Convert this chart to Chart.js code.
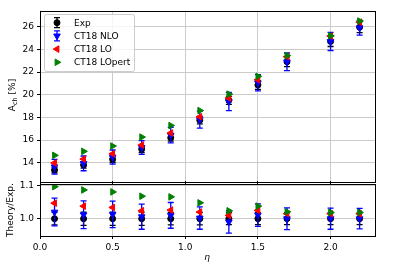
<!DOCTYPE html>
<html lang="en">
<head>
<meta charset="UTF-8">
<title>A_ch vs eta</title>
<script src="https://cdn.jsdelivr.net/npm/chart.js"></script>
<style>
  body { margin: 0; background: #fff; }
  .wrap { position: relative; width: 395px; height: 263px; }
  .wrap canvas { position: absolute; left: 0; top: 0; }
</style>
</head>
<body>
<div class="wrap">
  <canvas id="topChart" width="395" height="263"></canvas>
  <canvas id="ratioChart" width="395" height="263"></canvas>
</div>
<script>
// data
const eta = [0.1, 0.3, 0.5, 0.7, 0.9, 1.1, 1.3, 1.5, 1.7, 2.0, 2.2];

const expVal    = [13.35, 13.8, 14.3, 15.2, 16.2, 17.75, 19.5, 20.85, 22.9, 24.7, 25.95];
const expErr    = [0.25, 0.27, 0.28, 0.3, 0.3, 0.33, 0.36, 0.38, 0.42, 0.45, 0.48];
const nloVal    = [13.64, 13.94, 14.5, 15.34, 16.43, 17.8, 19.4, 21.05, 22.9, 24.7, 25.9];
const nloErr    = [0.65, 0.65, 0.62, 0.6, 0.68, 0.75, 0.8, 0.72, 0.78, 0.8, 0.65];
const loVal     = [13.98, 14.32, 14.79, 15.56, 16.62, 18.05, 19.7, 21.32, 23.35, 25.17, 26.4];
const lopertVal = [14.65, 15.0, 15.47, 16.26, 17.28, 18.6, 20.05, 21.62, 23.45, 25.2, 26.5];

const expRatio     = [1.0, 1.0, 1.0, 1.0, 1.0, 1.0, 1.0, 1.0, 1.0, 1.0, 1.0];
const expRatioErr  = [0.019, 0.02, 0.02, 0.02, 0.019, 0.019, 0.018, 0.018, 0.018, 0.018, 0.018];
const nloRatio     = [1.02, 1.012, 1.013, 1.006, 1.01, 1.002, 0.99, 1.011, 1.0, 1.0, 1.0];
const nloRatioErr  = [0.042, 0.042, 0.04, 0.038, 0.039, 0.034, 0.034, 0.034, 0.033, 0.032, 0.031];
const loRatio      = [1.047, 1.038, 1.034, 1.024, 1.026, 1.02, 1.01, 1.025, 1.015, 1.015, 1.015];
const lopertRatio  = [1.097, 1.087, 1.081, 1.068, 1.066, 1.048, 1.024, 1.038, 1.021, 1.019, 1.019];

const xTicks      = [0.0, 0.5, 1.0, 1.5, 2.0];
const topTicks    = [14, 16, 18, 20, 22, 24, 26];
const ratioTicks  = [1.0, 1.1];

const seriesNames  = ['Exp', 'CT18 NLO', 'CT18 LO', 'CT18 LOpert'];
const seriesColors = ['#000000', '#0000ff', '#ff0000', '#008000'];
const seriesStyle  = [
  { pointStyle: 'circle', rotation: 0, radius: 3 },
  { pointStyle: 'triangle', rotation: 180, radius: 3.8 },
  { pointStyle: 'triangle', rotation: -90, radius: 3.8 },
  { pointStyle: 'triangle', rotation: 90, radius: 3.8 }
];

const FONT = '"DejaVu Sans", sans-serif';
const gridColor = '#cbcbcb';

function pts(vals) {
  return vals.map((v, i) => ({ x: eta[i], y: v }));
}

function makeDatasets(valueLists) {
  return valueLists.map((vals, k) => ({
    label: seriesNames[k],
    data: pts(vals),
    backgroundColor: seriesColors[k],
    borderColor: seriesColors[k],
    borderWidth: 1,
    pointStyle: seriesStyle[k].pointStyle,
    rotation: seriesStyle[k].rotation,
    pointRadius: seriesStyle[k].radius,
    showLine: false,
    order: 4 - k   // Exp drawn first, LOpert last (on top)
  }));
}

// error bars, drawn just before their own dataset
function errorBarPlugin(errs) {
  return {
    id: 'errbars',
    beforeDatasetDraw(chart, args) {
      const err = errs[args.index];
      if (!err) return;
      const ds = chart.data.datasets[args.index];
      const xs = chart.scales.x, ys = chart.scales.y;
      const ctx = chart.ctx;
      ctx.save();
      ctx.strokeStyle = ds.borderColor;
      ctx.lineWidth = 1.3;
      ds.data.forEach((p, i) => {
        const x = xs.getPixelForValue(p.x);
        const y1 = ys.getPixelForValue(p.y - err[i]);
        const y2 = ys.getPixelForValue(p.y + err[i]);
        ctx.beginPath();
        ctx.moveTo(x, y1); ctx.lineTo(x, y2);
        ctx.moveTo(x - 3, y1); ctx.lineTo(x + 3, y1);
        ctx.moveTo(x - 3, y2); ctx.lineTo(x + 3, y2);
        ctx.stroke();
      });
      ctx.restore();
    }
  };
}

const framePlugin = {
  id: 'frame',
  afterDraw(chart) {
    const a = chart.chartArea, ctx = chart.ctx;
    ctx.save();
    ctx.strokeStyle = '#000';
    ctx.lineWidth = 1;
    ctx.strokeRect(Math.round(a.left) + 0.5, Math.round(a.top) + 0.5,
                   Math.round(a.right - a.left), Math.round(a.bottom - a.top));
    ctx.restore();
  }
};

// legend inside the top panel (upper left)
const legendPlugin = {
  id: 'innerLegend',
  afterDraw(chart) {
    const ctx = chart.ctx;
    const x0 = 44.5, y0 = 14.5, w = 90, h = 57, r = 2;
    ctx.save();
    ctx.beginPath();
    ctx.roundRect(x0, y0, w, h, r);
    ctx.fillStyle = 'rgba(255,255,255,0.8)';
    ctx.fill();
    ctx.strokeStyle = '#cccccc';
    ctx.lineWidth = 1;
    ctx.stroke();
    seriesNames.forEach((name, k) => {
      const cy = 22.7 + k * 13.2;
      const mx = 57;
      ctx.strokeStyle = seriesColors[k];
      ctx.fillStyle = seriesColors[k];
      if (k < 2) {
        ctx.lineWidth = 1.3;
        ctx.beginPath();
        ctx.moveTo(mx, cy - 5); ctx.lineTo(mx, cy + 5);
        ctx.moveTo(mx - 3, cy - 5); ctx.lineTo(mx + 3, cy - 5);
        ctx.moveTo(mx - 3, cy + 5); ctx.lineTo(mx + 3, cy + 5);
        ctx.stroke();
      }
      ctx.lineWidth = 1;
      Chart.helpers.drawPoint(ctx, {
        pointStyle: seriesStyle[k].pointStyle,
        rotation: seriesStyle[k].rotation,
        radius: seriesStyle[k].radius,
        borderWidth: 1
      }, mx, cy);
      ctx.fillStyle = '#000';
      ctx.font = '9px ' + FONT;
      ctx.textAlign = 'left';
      ctx.textBaseline = 'middle';
      ctx.fillText(name, 74, cy + 0.5);
    });
    ctx.restore();
  }
};

const topLabelPlugin = {
  id: 'topLabel',
  afterDraw(chart) {
    const ctx = chart.ctx;
    ctx.save();
    ctx.translate(12, 95);
    ctx.rotate(-Math.PI / 2);
    ctx.fillStyle = '#000';
    ctx.textBaseline = 'alphabetic';
    ctx.textAlign = 'left';
    const big = '9px ' + FONT, small = '6.5px ' + FONT;
    ctx.font = big;  const wA = ctx.measureText('A').width;
    const wR = ctx.measureText(' [%]').width;
    ctx.font = small; const wS = ctx.measureText('ch').width;
    let x = -(wA + wS + wR) / 2;
    ctx.font = big;  ctx.fillText('A', x, 3); x += wA;
    ctx.font = small; ctx.fillText('ch', x, 5); x += wS;
    ctx.font = big;  ctx.fillText(' [%]', x, 3);
    ctx.restore();
  }
};

const ratioLabelPlugin = {
  id: 'ratioLabel',
  afterDraw(chart) {
    const ctx = chart.ctx;
    ctx.save();
    ctx.fillStyle = '#000';
    ctx.font = '9px ' + FONT;
    ctx.textAlign = 'center';
    ctx.textBaseline = 'middle';
    ctx.save();
    ctx.translate(11, 210);
    ctx.rotate(-Math.PI / 2);
    ctx.fillText('Theory/Exp.', 0, 0);
    ctx.restore();
    ctx.font = 'italic 9px ' + FONT;
    ctx.fillText('η', 207, 258);
    ctx.restore();
  }
};

function setTicks(list) {
  return s => { s.ticks = list.map(v => ({ value: v })); };
}

const tickFont = { family: FONT, size: 9 };

// top panel
new Chart(document.getElementById('topChart'), {
  type: 'scatter',
  data: { datasets: makeDatasets([expVal, nloVal, loVal, lopertVal]) },
  options: {
    responsive: false,
    animation: false,
    layout: { padding: { top: 10.7, right: 19.7, bottom: 81.7, left: 0 } },
    plugins: { legend: { display: false }, tooltip: { enabled: false } },
    scales: {
      x: {
        type: 'linear', min: 0, max: 2.308,
        afterBuildTicks: setTicks(xTicks),
        ticks: { display: false },
        grid: { color: gridColor, lineWidth: 1, tickColor: '#000', tickLength: 3 },
        border: { display: false },
        afterFit: s => { s.height = 0; }
      },
      y: {
        type: 'linear', min: 12.36, max: 27.41,
        afterBuildTicks: setTicks(topTicks),
        ticks: { font: tickFont, color: '#000', padding: 3, callback: v => v.toFixed(0) },
        grid: { color: gridColor, lineWidth: 1, tickColor: '#000', tickLength: 3 },
        border: { display: false },
        afterFit: s => { s.width = 40; }
      }
    }
  },
  plugins: [errorBarPlugin({ 0: expErr, 1: nloErr }), framePlugin, legendPlugin, topLabelPlugin]
});

// ratio panel
new Chart(document.getElementById('ratioChart'), {
  type: 'scatter',
  data: { datasets: makeDatasets([expRatio, nloRatio, loRatio, lopertRatio]) },
  options: {
    responsive: false,
    animation: false,
    layout: { padding: { top: 184, right: 19.7, bottom: 0, left: 0 } },
    plugins: { legend: { display: false }, tooltip: { enabled: false } },
    scales: {
      x: {
        type: 'linear', min: 0, max: 2.308,
        afterBuildTicks: setTicks(xTicks),
        ticks: { font: tickFont, color: '#000', padding: 3, maxRotation: 0, callback: v => v.toFixed(1) },
        grid: { color: gridColor, lineWidth: 1, tickColor: '#000', tickLength: 3 },
        border: { display: false },
        afterFit: s => { s.height = 27; }
      },
      y: {
        type: 'linear', min: 0.9476, max: 1.105,
        afterBuildTicks: setTicks(ratioTicks),
        ticks: { font: tickFont, color: '#000', padding: 3, callback: v => v.toFixed(1) },
        grid: { color: gridColor, lineWidth: 1, tickColor: '#000', tickLength: 3 },
        border: { display: false },
        afterFit: s => { s.width = 40; }
      }
    }
  },
  plugins: [errorBarPlugin({ 0: expRatioErr, 1: nloRatioErr }), framePlugin, ratioLabelPlugin]
});
</script>
</body>
</html>
